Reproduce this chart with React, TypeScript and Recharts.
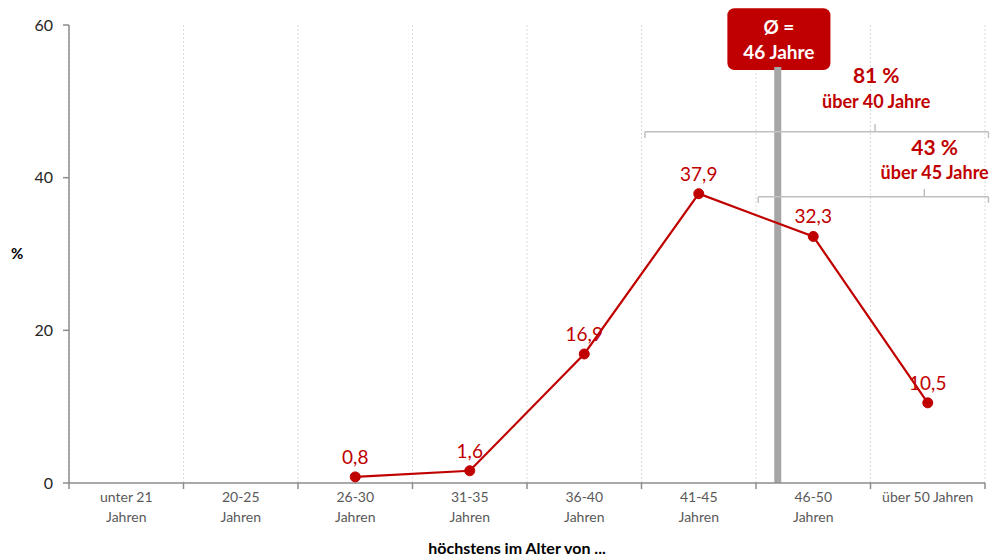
import {
  LineChart,
  Line,
  XAxis,
  YAxis,
  CartesianGrid,
  LabelList,
  ReferenceLine,
  ReferenceArea,
  ReferenceDot,
} from "recharts"

const categories = [
  "unter 21 Jahren",
  "20-25 Jahren",
  "26-30 Jahren",
  "31-35 Jahren",
  "36-40 Jahren",
  "41-45 Jahren",
  "46-50 Jahren",
  "über 50 Jahren",
]
const tickLines = [
  ["unter 21", "Jahren"],
  ["20-25", "Jahren"],
  ["26-30", "Jahren"],
  ["31-35", "Jahren"],
  ["36-40", "Jahren"],
  ["41-45", "Jahren"],
  ["46-50", "Jahren"],
  ["über 50 Jahren"],
]
const values: (number | null)[] = [null, null, 0.8, 1.6, 16.9, 37.9, 32.3, 10.5]
const yTicks = [0, 20, 40, 60]
const boundaries = [0, 1, 2, 3, 4, 5, 6, 7, 8]

// average age marker, in band units on the numeric x axis
const avgPos = 6.19
const avgText = ["Ø =", "46 Jahre"]

// brackets over the last bands
const bracket1 = { from: 5.03, to: 8.03, tick: 7.04, y: 46.0 }
const bracket2 = { from: 6.02, to: 8.03, tick: 7.47, y: 37.5 }
const note1 = { x: 7.05, pct: "81 %", text: "über 40 Jahre", yPct: 53.4, yText: 50.0 }
const note2 = { x: 7.56, pct: "43 %", text: "über 45 Jahre", yPct: 43.9, yText: 40.6 }

const RED = "#c00000"
const AXIS = "#8c8c8c"
const FONT = "Lato, 'Open Sans', sans-serif"

const W = 999
const H = 560
const M = { top: 25, right: 14, left: 9, bottom: 0 }
const Y_W = 60
const HALF_BAND = (W - M.left - M.right - Y_W) / categories.length / 2

const data = categories.map((cat, i) => ({ cat, pos: i + 0.5, value: values[i] }))

function CatTick(props: any) {
  const { x, y, payload } = props
  const lines = tickLines[payload.value]
  if (!lines) return <g />
  return (
    <g>
      {lines.map((l, i) => (
        <text
          key={i}
          x={x + HALF_BAND}
          y={y + 11 + i * 20}
          textAnchor="middle"
          fill="#595959"
          fontSize={14}
          fontFamily={FONT}
        >
          {l}
        </text>
      ))}
    </g>
  )
}

function Bracket({ b }: { b: { from: number; to: number; tick: number; y: number } }) {
  const common = { stroke: "#bfbfbf", strokeWidth: 1.5, ifOverflow: "visible" as const }
  return (
    <>
      <ReferenceLine {...common} segment={[{ x: b.from, y: b.y }, { x: b.to, y: b.y }]} />
      <ReferenceLine {...common} segment={[{ x: b.from, y: b.y }, { x: b.from, y: b.y - 0.8 }]} />
      <ReferenceLine {...common} segment={[{ x: b.to, y: b.y }, { x: b.to, y: b.y - 0.8 }]} />
      <ReferenceLine {...common} segment={[{ x: b.tick, y: b.y }, { x: b.tick, y: b.y + 1 }]} />
    </>
  )
}

function Note({ x, y, text, size }: { x: number; y: number; text: string; size: number }) {
  return (
    <ReferenceDot
      x={x}
      y={y}
      r={0}
      fill="none"
      stroke="none"
      ifOverflow="visible"
      label={{ value: text, position: "center", fill: RED, fontSize: size, fontWeight: 700, fontFamily: FONT }}
    />
  )
}

export default function App() {
  return (
    <div style={{ position: "absolute", left: 0, top: 0, background: "#fff" }}>
      <LineChart width={W} height={H} data={data} margin={M}>
        <CartesianGrid vertical horizontal={false} stroke="#d9d9d9" strokeDasharray="2 2" />
        <XAxis
          dataKey="pos"
          type="number"
          domain={[0, 8]}
          allowDataOverflow
          ticks={boundaries}
          interval={0}
          height={77}
          tickSize={6}
          axisLine={{ stroke: AXIS, strokeWidth: 1.5 }}
          tickLine={{ stroke: AXIS, strokeWidth: 1.5 }}
          tick={<CatTick />}
          label={{
            value: "höchstens im Alter von ...",
            position: "insideBottom",
            offset: 6,
            dx: -10,
            fill: "#000",
            fontSize: 16,
            fontWeight: 700,
            fontFamily: FONT,
          }}
        />
        <YAxis
          domain={[0, 60]}
          ticks={yTicks}
          width={Y_W}
          tickSize={6}
          tickMargin={10}
          axisLine={{ stroke: AXIS, strokeWidth: 1.5 }}
          tickLine={{ stroke: AXIS, strokeWidth: 1.5 }}
          tick={{ fill: "#262626", fontSize: 16, fontFamily: FONT }}
          label={{
            value: "%",
            position: "insideLeft",
            offset: 2,
            fill: "#000",
            fontSize: 15,
            fontWeight: 700,
            fontFamily: FONT,
          }}
        />
        <ReferenceLine
          segment={[{ x: avgPos, y: 0 }, { x: avgPos, y: 54.5 }]}
          stroke="#a6a6a6"
          strokeWidth={7}
          ifOverflow="visible"
        />
        <ReferenceArea
          x1={5.75}
          x2={6.65}
          y1={54.1}
          y2={62.2}
          ifOverflow="visible"
          shape={(p: any) => <rect x={p.x} y={p.y} width={p.width} height={p.height} rx={7} fill={RED} />}
          label={(p: any) => {
            const vb = p.viewBox || {}
            const cx = vb.x + vb.width / 2
            return (
              <g>
                <text x={cx} y={vb.y + 26} textAnchor="middle" fill="#fff" fontSize={19} fontWeight={700} fontFamily={FONT}>
                  {avgText[0]}
                </text>
                <text x={cx} y={vb.y + 51} textAnchor="middle" fill="#fff" fontSize={19} fontWeight={700} fontFamily={FONT}>
                  {avgText[1]}
                </text>
              </g>
            )
          }}
        />
        {Bracket({ b: bracket1 })}
        {Bracket({ b: bracket2 })}
        {Note({ x: note1.x, y: note1.yPct, text: note1.pct, size: 21 })}
        {Note({ x: note1.x, y: note1.yText, text: note1.text, size: 18 })}
        {Note({ x: note2.x, y: note2.yPct, text: note2.pct, size: 21 })}
        {Note({ x: note2.x, y: note2.yText, text: note2.text, size: 18 })}
        <Line
          type="linear"
          dataKey="value"
          stroke={RED}
          strokeWidth={2.2}
          dot={{ r: 5, fill: RED, stroke: RED, strokeWidth: 1 }}
          activeDot={false}
          isAnimationActive={false}
        >
          <LabelList
            dataKey="value"
            position="top"
            offset={13}
            fill={RED}
            fontSize={19}
            fontFamily={FONT}
            formatter={(v: any) => (v == null ? "" : String(v).replace(".", ","))}
          />
        </Line>
      </LineChart>
    </div>
  )
}
